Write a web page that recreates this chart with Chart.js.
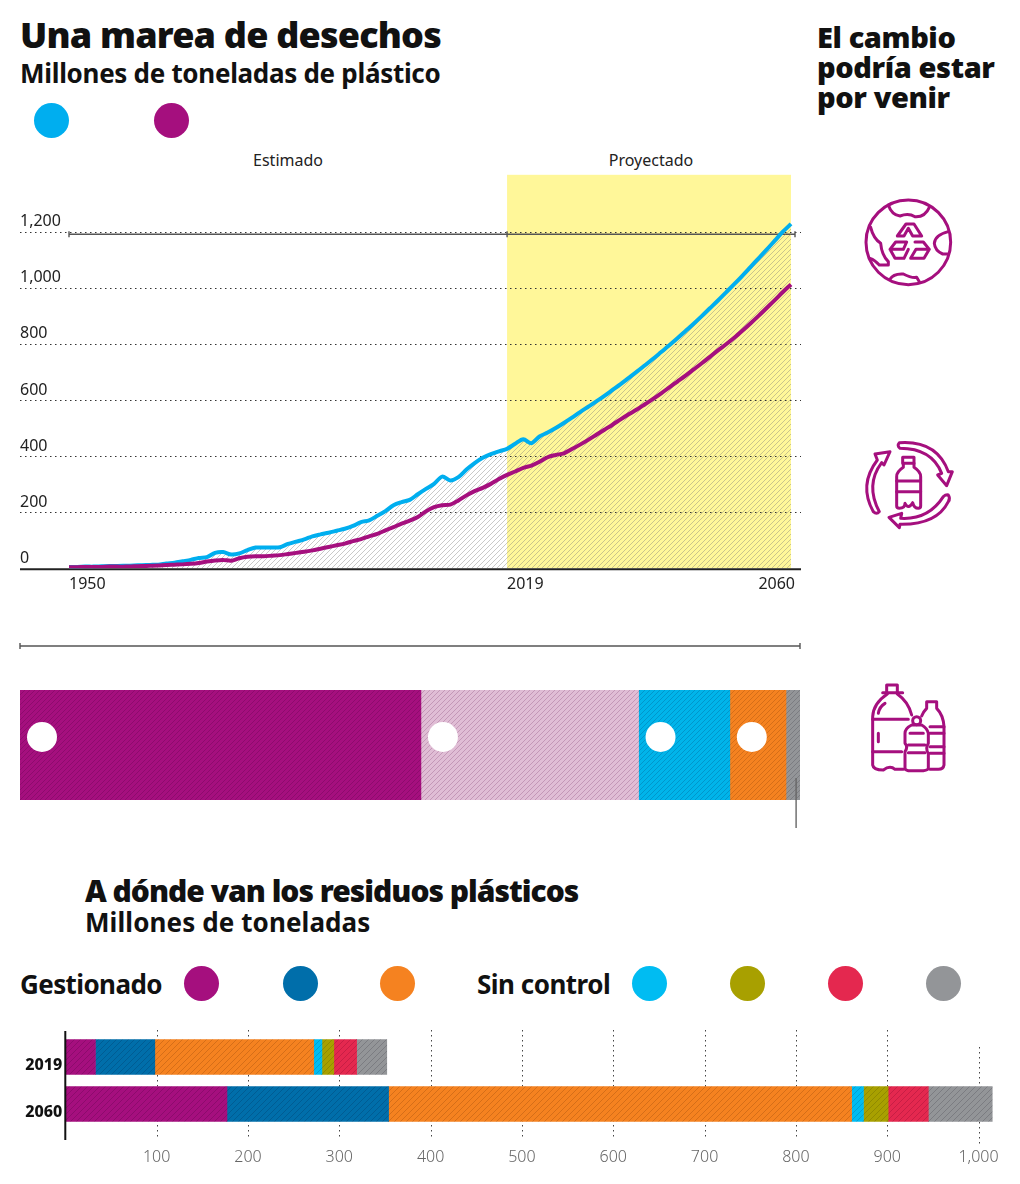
<!DOCTYPE html>
<html lang="es">
<head>
<meta charset="utf-8">
<title>Una marea de desechos</title>
<script src="https://cdn.jsdelivr.net/npm/chart.js@4"></script>
<style>
  html, body { margin: 0; background: #fff; }
  #page { position: relative; width: 1020px; height: 1184px; overflow: hidden; font-family: "Noto Sans", sans-serif; color: #111; }
  #page canvas { position: absolute; left: 0; }
  .txt { position: absolute; white-space: nowrap; }
  .h1 { font-weight: 900; font-size: 36px; letter-spacing: -0.8px; line-height: 44px; }
  .h2 { font-weight: 700; font-size: 26px; letter-spacing: -0.3px; line-height: 32px; }
  .side { font-weight: 900; font-size: 29px; letter-spacing: -0.4px; line-height: 30px; }
  .lab { font-size: 16px; color: #222; line-height: 20px; transform: translateX(-50%); }
  .dot { position: absolute; width: 35px; height: 35px; border-radius: 50%; }
  svg { position: absolute; fill: none; stroke: #a50f7e; stroke-width: 9; stroke-linejoin: round; stroke-linecap: round; }
</style>
</head>
<body>
<div id="page">
  <div class="txt h1" style="left:20px;top:13px">Una marea de desechos</div>
  <div class="txt h2" style="left:20px;top:57px">Millones de toneladas de plástico</div>
  <div class="txt side" style="left:817px;top:22px">El cambio<br>podría estar<br>por venir</div>
  <div class="dot" style="left:33.5px;top:103px;background:#00aeef"></div>
  <div class="dot" style="left:153.5px;top:103px;background:#a50f7e"></div>
  <div class="txt lab" style="left:288px;top:150px">Estimado</div>
  <div class="txt lab" style="left:651px;top:150px">Proyectado</div>

  <canvas id="lineChart" width="1020" height="450" style="top:150px"></canvas>
  <canvas id="shareChart" width="1020" height="200" style="top:640px"></canvas>

  <div class="txt h1" style="left:85px;top:869px;font-size:30px;letter-spacing:-1px">A dónde van los residuos plásticos</div>
  <div class="txt h2" style="left:85px;top:906px;letter-spacing:0.1px">Millones de toneladas</div>
  <div class="txt h2" style="left:20px;top:968px;letter-spacing:-0.6px">Gestionado</div>
  <div class="txt h2" style="left:477px;top:968px;letter-spacing:-0.5px">Sin control</div>
  <div class="dot" style="left:184px;top:966px;background:#a50f7e"></div>
  <div class="dot" style="left:283px;top:966px;background:#006eaa"></div>
  <div class="dot" style="left:380px;top:966px;background:#f58220"></div>
  <div class="dot" style="left:632px;top:966px;background:#00bcf2"></div>
  <div class="dot" style="left:730px;top:966px;background:#a8a000"></div>
  <div class="dot" style="left:828px;top:966px;background:#e4284f"></div>
  <div class="dot" style="left:926px;top:966px;background:#939598"></div>

  <canvas id="wasteChart" width="1020" height="184" style="top:1000px"></canvas>

  <!-- iconos -->
  <svg style="left:840px;top:180px" width="140" height="360" viewBox="0 0 420 1080">
    <circle cx="205" cy="187" r="127"/>
    <path d="M145 75Q155 105 180 108Q205 98 225 110Q255 112 268 82"/>
    <path d="M92 142Q100 175 122 190Q125 225 145 245V255H118Q105 240 90 235"/>
    <path d="M325 155Q285 165 283 190Q285 212 308 222H322"/>
    <path d="M150 298Q160 280 190 282Q215 295 230 292L238 305"/>
    <path d="M172 168L198 132H222L245 168H218L205 145L192 168Z"/>
    <path d="M150 208L167 186H200L190 208ZM150 208L165 235H192L205 208"/>
    <path d="M225 186H250L268 208L252 235H212L228 208H268"/>
    <path d="M178 788Q290 780 325 875L337 875L320 917L293 885L305 880Q275 805 180 805Q170 797 178 788Z"/>
    <path d="M325 945Q332 955 325 965Q290 1035 180 1033L178 1043L147 1012L185 1000L182 1015Q265 1020 310 950Q318 943 325 945Z"/>
    <path d="M118 995Q110 1005 100 995Q55 915 112 840L105 822L150 815L132 855L125 848Q75 915 118 995Z"/>
    <path d="M188 832H222V850H188Z"/>
    <path d="M190 850V862Q170 875 170 890V978Q170 985 178 985Q195 985 195 970Q205 990 218 968Q222 985 235 985Q242 985 242 978V890Q242 875 222 862V850"/>
    <path d="M170 903H242M170 935H242"/>
  </svg>
  <svg style="left:840px;top:670px" width="140" height="120" viewBox="0 0 420 360">
    <path d="M128 68H188M140 45H172V68M140 45V68"/>
    <path d="M142 72Q100 100 98 140V285Q100 300 130 300Q150 285 165 298H190M172 72Q205 95 215 135"/>
    <path d="M98 148H205M98 245H185M115 130Q118 110 135 100M115 190V215"/>
    <path d="M260 95H290V115Q310 135 312 170V285Q310 298 295 298H270M260 95V115Q250 125 245 138"/>
    <path d="M270 170H312M270 190H312M270 230H312M270 250H312"/>
    <circle cx="230" cy="152" r="12"/>
    <path d="M215 165Q195 175 195 190V220Q205 230 195 245V295Q195 300 205 302H250Q265 300 265 295V250Q255 235 265 220V190Q262 175 245 165Z"/>
    <path d="M210 190H250M205 225H255M205 248H255"/>
  </svg>
</div>

<script>
/* DATA */
const years = [
  1950, 1951, 1953, 1954, 1955, 1956, 1958, 1959, 1960, 1962, 1963, 1964, 1965, 1967, 1968,
  1969, 1970, 1972, 1973, 1974, 1976, 1977, 1978, 1979, 1981, 1982, 1983, 1985, 1986, 1987,
  1988, 1990, 1991, 1992, 1993, 1995, 1996, 1997, 1999, 2000, 2001, 2002, 2004, 2005, 2006,
  2008, 2009, 2010, 2011, 2013, 2014, 2015, 2016, 2018, 2019,
  2020, 2021, 2023, 2024, 2025, 2026, 2027, 2028, 2030, 2031, 2032, 2033, 2034, 2035, 2037,
  2038, 2039, 2040, 2041, 2042, 2043, 2045, 2046, 2047, 2048, 2049, 2050, 2052, 2053, 2054,
  2055, 2056, 2057, 2059, 2060,
];
const blueLine = [
  5, 5, 6, 6, 7, 8, 8, 9, 10, 11, 12, 13, 17, 20, 25,
  30, 37, 40, 55, 58, 49, 53, 65, 74, 74, 74, 75, 87, 95, 103,
  114, 121, 127, 134, 141, 151, 165, 171, 187, 204, 225, 236, 244, 264, 283,
  301, 327, 313, 325, 352, 375, 394, 407, 417, 426,
  444, 460, 446, 470, 484, 500, 518, 537, 557, 576, 595, 615, 636, 657, 679,
  701, 724, 747, 771, 795, 820, 846, 872, 899, 927, 955, 984, 1013, 1043, 1074,
  1105, 1136, 1168, 1200, 1228,
];
const purpleLine = [
  4, 4, 5, 5, 5, 6, 6, 6, 7, 8, 9, 10, 12, 13, 14,
  16, 19, 24, 28, 30, 27, 36, 41, 43, 43, 45, 47, 51, 55, 59,
  64, 70, 76, 82, 88, 97, 104, 114, 123, 135, 147, 159, 170, 183, 203,
  218, 225, 227, 242, 260, 275, 287, 301, 318, 333,
  345, 358, 366, 380, 396, 404, 410, 425, 441, 458, 476, 494, 512, 531, 549,
  566, 585, 604, 624, 645, 666, 687, 709, 731, 754, 777, 799, 822, 847, 873,
  900, 928, 956, 985, 1012,
];
const lineTicks = [0, 200, 400, 600, 800, 1000, 1200];
const yearLabels = [1950, 2019, 2060];

const shareLabels = ['Total'];
const shareValues = [51.4, 27.9, 11.7, 7.2, 1.8];

const wasteYears = ['2019', '2060'];
const wasteMagenta = [33, 177];
const wasteDarkBlue = [65, 177];
const wasteOrange = [174, 507];
const wasteCyan = [9, 13];
const wasteOlive = [13, 27];
const wasteRed = [25, 44];
const wasteGray = [33, 70];
const wasteTicks = [100, 200, 300, 400, 500, 600, 700, 800, 900, 1000];

/* HELPERS */
Chart.defaults.font.family = '"Noto Sans"';
Chart.defaults.animation = false;
Chart.defaults.plugins.legend.display = false;
Chart.defaults.plugins.tooltip.enabled = false;

function hatch(bg, line, size, width) {
  const c = document.createElement('canvas');
  c.width = c.height = size;
  const g = c.getContext('2d');
  if (bg) {
    g.fillStyle = bg;
    g.fillRect(0, 0, size, size);
  }
  g.strokeStyle = line;
  g.lineWidth = width;
  g.beginPath();
  g.moveTo(-1, 1); g.lineTo(1, -1);
  g.moveTo(0, size); g.lineTo(size, 0);
  g.moveTo(size - 1, size + 1); g.lineTo(size + 1, size - 1);
  g.stroke();
  return g.createPattern(c, 'repeat');
}

function bracket(ctx, x1, x2, y, marks) {
  ctx.save();
  ctx.strokeStyle = '#555';
  ctx.lineWidth = 1.4;
  ctx.beginPath();
  ctx.moveTo(x1, y);
  ctx.lineTo(x2, y);
  marks.forEach((x) => {
    ctx.moveTo(x, y - 3);
    ctx.lineTo(x, y + 3);
  });
  ctx.stroke();
  ctx.restore();
}

/* LINE CHART */
new Chart(document.getElementById('lineChart'), {
  type: 'line',
  data: {
    labels: years,
    datasets: [
      {
        data: purpleLine,
        borderColor: '#a50f7e',
        borderWidth: 4,
        pointRadius: 0,
        tension: 0.3,
        order: 1,
      },
      {
        data: blueLine,
        borderColor: '#00aeef',
        borderWidth: 4,
        pointRadius: 0,
        tension: 0.3,
        fill: 'origin',
        backgroundColor: hatch(null, 'rgba(120,120,120,0.4)', 5, 1),
        order: 2,
      },
    ],
  },
  options: {
    responsive: false,
    layout: { padding: { left: 20, right: 229, top: 24.8, bottom: 0 } },
    scales: {
      x: {
        type: 'category',
        grid: { display: false, drawTicks: false },
        border: { display: false },
        ticks: { display: false },
        afterFit: (s) => { s.height = 31.7; },
      },
      y: {
        min: 0,
        max: 1403,
        grid: { display: false, drawTicks: false },
        border: { display: false },
        afterBuildTicks: (s) => { s.ticks = lineTicks.map((v) => ({ value: v })); },
        afterFit: (s) => { s.width = 49; },
        ticks: {
          crossAlign: 'far',
          padding: 0,
          labelOffset: -10,
          color: '#222',
          font: { size: 16 },
          callback: (v) => v.toLocaleString('en-US'),
        },
      },
    },
  },
  plugins: [{
    id: 'bandAndGrid',
    beforeDatasetsDraw(chart) {
      const { ctx, chartArea: a, scales: { x, y } } = chart;
      const x2019 = x.getPixelForValue(years.indexOf(2019));
      const x2060 = x.getPixelForValue(years.indexOf(2060));
      ctx.save();
      ctx.fillStyle = '#fff799';
      ctx.fillRect(x2019, a.top, x2060 - x2019, a.bottom - a.top);

      ctx.strokeStyle = '#333';
      ctx.lineWidth = 1;
      ctx.setLineDash([1.5, 3.5]);
      lineTicks.slice(1).forEach((v) => {
        const py = Math.round(y.getPixelForValue(v)) + 0.5;
        ctx.beginPath();
        ctx.moveTo(20, py);
        ctx.lineTo(801, py);
        ctx.stroke();
      });
      ctx.setLineDash([]);
      ctx.strokeStyle = '#222';
      ctx.lineWidth = 2;
      ctx.beginPath();
      ctx.moveTo(20, y.getPixelForValue(0) + 1);
      ctx.lineTo(801, y.getPixelForValue(0) + 1);
      ctx.stroke();
      ctx.restore();
      bracket(ctx, x.getPixelForValue(0), 795, y.getPixelForValue(1200) + 2.5,
        [x.getPixelForValue(0), x2019, 795]);
    },
    afterDraw(chart) {
      const { ctx, scales: { x, y } } = chart;
      ctx.save();
      ctx.fillStyle = '#222';
      ctx.font = '16px "Noto Sans"';
      ctx.textBaseline = 'middle';
      yearLabels.forEach((yr) => {
        const last = yr === 2060;
        ctx.textAlign = last ? 'right' : 'left';
        ctx.fillText(String(yr), x.getPixelForValue(years.indexOf(yr)) + (last ? 4 : 0), y.getPixelForValue(0) + 16);
      });
      ctx.restore();
    },
  }],
});

/* SHARE BAR */
const shareColors = [
  hatch('#a50f7e', 'rgba(70,0,60,0.25)', 5, 1),
  hatch('#e0bdd5', 'rgba(140,80,130,0.35)', 5, 1),
  hatch('#00b4ea', 'rgba(0,60,110,0.25)', 5, 1),
  hatch('#f58220', 'rgba(120,50,0,0.25)', 5, 1),
  hatch('#939598', 'rgba(50,50,60,0.25)', 5, 1),
];

new Chart(document.getElementById('shareChart'), {
  type: 'bar',
  data: {
    labels: shareLabels,
    datasets: shareValues.map((v, i) => ({
      data: [v],
      backgroundColor: shareColors[i],
      barPercentage: 1,
      categoryPercentage: 1,
    })),
  },
  options: {
    responsive: false,
    indexAxis: 'y',
    layout: { padding: { left: 20, right: 220, top: 50, bottom: 40 } },
    scales: {
      x: { stacked: true, display: false, min: 0, max: 100 },
      y: { stacked: true, display: false },
    },
  },
  plugins: [{
    id: 'shareMarks',
    afterDraw(chart) {
      const { ctx, chartArea: a, scales: { x } } = chart;
      bracket(ctx, a.left, a.right, 6, [a.left, a.right]);
      ctx.save();
      ctx.fillStyle = '#fff';
      let sum = 0;
      shareValues.slice(0, 4).forEach((v) => {
        ctx.beginPath();
        ctx.arc(x.getPixelForValue(sum) + 22, (a.top + a.bottom) / 2 - 8, 15, 0, Math.PI * 2);
        ctx.fill();
        sum += v;
      });
      ctx.strokeStyle = '#666';
      ctx.lineWidth = 1.4;
      ctx.beginPath();
      ctx.moveTo(x.getPixelForValue(99.5), a.bottom - 22);
      ctx.lineTo(x.getPixelForValue(99.5), a.bottom + 28);
      ctx.stroke();
      ctx.restore();
    },
  }],
});

/* WASTE BARS */
const wasteSeries = [
  [wasteMagenta, '#a50f7e', 'rgba(70,0,60,0.25)'],
  [wasteDarkBlue, '#006eaa', 'rgba(0,40,80,0.25)'],
  [wasteOrange, '#f58220', 'rgba(120,50,0,0.25)'],
  [wasteCyan, '#00bcf2', 'rgba(0,70,120,0.25)'],
  [wasteOlive, '#a8a000', 'rgba(70,70,0,0.25)'],
  [wasteRed, '#e4284f', 'rgba(110,0,40,0.25)'],
  [wasteGray, '#939598', 'rgba(50,50,60,0.25)'],
];

new Chart(document.getElementById('wasteChart'), {
  type: 'bar',
  data: {
    labels: wasteYears,
    datasets: wasteSeries.map(([values, color, line]) => ({
      data: values,
      backgroundColor: hatch(color, line, 6, 1),
      barThickness: 35,
    })),
  },
  options: {
    responsive: false,
    indexAxis: 'y',
    layout: { padding: { left: 0, right: 20, top: 33.5, bottom: 0 } },
    scales: {
      x: {
        stacked: true,
        min: 0,
        max: 1023.5,
        grid: { display: false, drawTicks: false },
        border: { display: false },
        afterBuildTicks: (s) => { s.ticks = wasteTicks.map((v) => ({ value: v })); },
        afterFit: (s) => { s.height = 56.5; },
        ticks: {
          padding: 20,
          color: '#666',
          font: { size: 16, weight: '300' },
          maxRotation: 0,
          autoSkip: false,
          callback: (v) => v.toLocaleString('en-US'),
        },
      },
      y: {
        stacked: true,
        grid: { display: false, drawTicks: false },
        border: { display: false },
        afterFit: (s) => { s.width = 65.3; },
        ticks: {
          padding: 3,
          labelOffset: 8,
          color: '#111',
          font: { size: 16, weight: '800' },
        },
      },
    },
  },
  plugins: [{
    id: 'wasteGrid',
    beforeDatasetsDraw(chart) {
      const { ctx, scales: { x } } = chart;
      ctx.save();
      ctx.strokeStyle = '#444';
      ctx.lineWidth = 1;
      ctx.setLineDash([1.5, 3.5]);
      wasteTicks.forEach((v) => {
        const px = Math.round(x.getPixelForValue(v)) + 0.5;
        ctx.beginPath();
        ctx.moveTo(px, v === 1000 ? 47 : 30);
        ctx.lineTo(px, v === 1000 ? 147 : 137);
        ctx.stroke();
      });
      ctx.restore();
    },
    afterDraw(chart) {
      const { ctx, chartArea: a } = chart;
      ctx.save();
      ctx.strokeStyle = '#111';
      ctx.lineWidth = 2;
      ctx.beginPath();
      ctx.moveTo(a.left, 31);
      ctx.lineTo(a.left, 140);
      ctx.stroke();
      ctx.restore();
    },
  }],
});
</script>
</body>
</html>
